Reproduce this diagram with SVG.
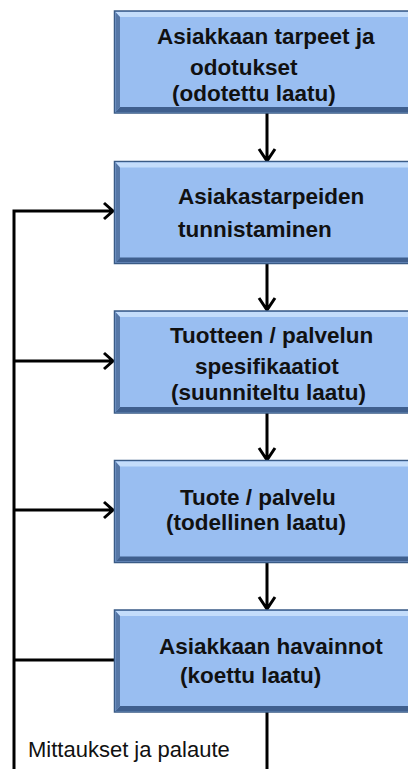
<svg xmlns="http://www.w3.org/2000/svg" width="408" height="769" viewBox="0 0 408 769">
<style>
.box{fill:#99bef1;stroke:#3a5b86;stroke-width:1.5}
.hi{fill:#c4ddfb}
.lf{fill:#5677a6}
.bt{fill:#3f5f8e}
.t{font-family:"Liberation Sans",Arial,sans-serif;font-size:22.5px;font-weight:bold;fill:#111}
.lbl{font-family:"Liberation Sans",Arial,sans-serif;font-size:22px;fill:#111}
.c{fill:none;stroke:#000;stroke-width:3;stroke-linejoin:miter}
</style>
<defs>
<g id="bevel">
<rect class="box" x="114.5" y="0" width="300" height="102"/>
<polygon class="hi" points="115.5,1 408,1 408,6 120,6"/>
<polygon class="lf" points="115.5,1 120,6 120,96 115.5,101"/>
<polygon class="bt" points="115.5,101 120,96 408,96 408,101"/>
</g>
</defs>
<g id="connectors">
<path class="c" d="M267,113 V161 M259,149 L267,161 L275,149"/>
<path class="c" d="M267,263 V310 M259,298 L267,310 L275,298"/>
<path class="c" d="M267,413 V460 M259,448 L267,460 L275,448"/>
<path class="c" d="M267,562 V609 M259,597 L267,609 L275,597"/>
<path class="c" d="M267,712 V769"/>
<path class="c" d="M14,769 V211 H113 M104,203 L113,211 L104,219"/>
<path class="c" d="M14,361 H113 M104,353 L113,361 L104,369"/>
<path class="c" d="M14,510 H113 M104,502 L113,510 L104,518"/>
<path class="c" d="M14,660 H114"/>
</g>
<g id="node1">
<use href="#bevel" y="11"/>
<text class="t" x="157" y="44">Asiakkaan tarpeet ja</text>
<text class="t" x="190" y="75">odotukset</text>
<text class="t" x="172" y="101">(odotettu laatu)</text>
</g>
<g id="node2">
<use href="#bevel" y="161.5"/>
<text class="t" x="178" y="204">Asiakastarpeiden</text>
<text class="t" x="178" y="237">tunnistaminen</text>
</g>
<g id="node3">
<use href="#bevel" y="311"/>
<text class="t" x="170" y="343">Tuotteen / palvelun</text>
<text class="t" x="195" y="374">spesifikaatiot</text>
<text class="t" x="171" y="400">(suunniteltu laatu)</text>
</g>
<g id="node4">
<use href="#bevel" y="460.5"/>
<text class="t" x="180" y="505">Tuote / palvelu</text>
<text class="t" x="166" y="530">(todellinen laatu)</text>
</g>
<g id="node5">
<use href="#bevel" y="610"/>
<text class="t" x="159" y="654">Asiakkaan havainnot</text>
<text class="t" x="180" y="683">(koettu laatu)</text>
</g>
<text class="lbl" x="28" y="757">Mittaukset ja palaute</text>
</svg>
